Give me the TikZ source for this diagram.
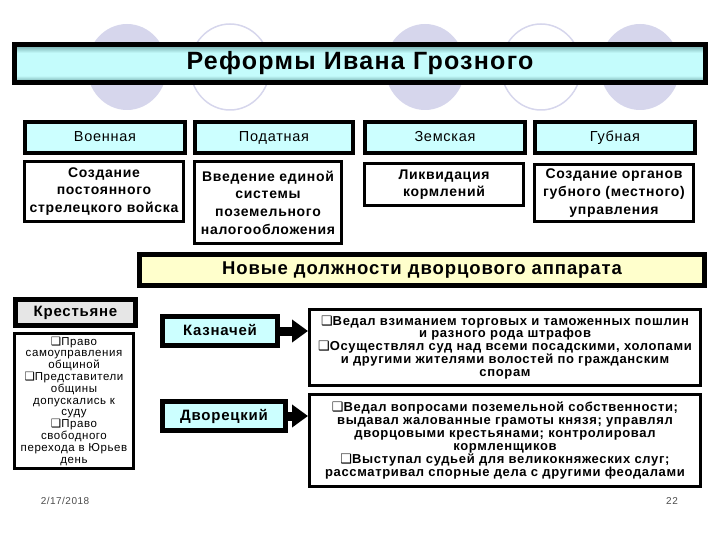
\documentclass[tikz,border=0pt]{standalone}
\usepackage{fontspec}
\setmainfont{Liberation Sans}[LetterSpace=5]
\newfontfamily\dejavu{DejaVu Sans}
\usetikzlibrary{arrows.meta}
\definecolor{RingClr}{RGB}{214,214,236}
\definecolor{TubeClr}{RGB}{196,252,252}
\definecolor{TubeEdgeClr}{RGB}{104,160,160}
\definecolor{HeadClr}{RGB}{204,255,255}
\definecolor{GoldClr}{RGB}{255,255,204}
\definecolor{GrayClr}{RGB}{230,230,230}
\pgfdeclareverticalshading{tubeshade}{100bp}{color(0bp)=(TubeEdgeClr); color(25bp)=(TubeEdgeClr);
  color(34bp)=(TubeClr); color(64bp)=(TubeClr); color(75bp)=(TubeEdgeClr); color(100bp)=(TubeEdgeClr)}
\newcommand{\qbox}{{\dejavu\char"2751}}

\tikzset{
  cell/.style={draw,rectangle,inner sep=0pt,align=center},
  tube/.style={cell,line width=5pt,shading=tubeshade,
    minimum width=691pt,minimum height=38pt,font=\bfseries\fontsize{25}{27}\selectfont},
  head/.style={cell,line width=4pt,fill=HeadClr,minimum height=31pt,text height=10.5pt,text depth=3pt,
    font=\fontsize{14.5}{16}\selectfont},
  desc/.style={cell,line width=3pt,fill=white,font=\bfseries\fontsize{14}{17.7}\selectfont},
  goldbar/.style={cell,line width=5pt,fill=GoldClr,minimum width=565pt,minimum height=31pt,
    font=\bfseries\fontsize{18.5}{20}\selectfont},
  post/.style={cell,line width=5pt,fill=HeadClr,minimum height=29pt,text height=11pt,text depth=3pt,
    font=\bfseries\fontsize{15}{17}\selectfont},
  duty/.style={cell,line width=3pt,fill=white,minimum width=391pt,font=\bfseries\fontsize{13}{12.9}\selectfont},
  fatarrow/.style={line width=9pt,-{Triangle[length=16pt,width=22pt]}},
  ring/.style={line width=1.5pt,draw=RingClr},
  foot/.style={inner sep=0pt,text=black!70,font=\fontsize{10}{12}\selectfont}
}

\begin{document}
\begin{tikzpicture}[x=1pt,y=-1pt]
\useasboundingbox (0,0) rectangle (720,540);

% rings behind the title
\fill[RingClr] (127,67) ellipse (40 and 43);
\draw[ring] (230,67) ellipse (40 and 43);
\fill[RingClr] (425,67) ellipse (40 and 43);
\draw[ring] (541,67) ellipse (40 and 43);
\fill[RingClr] (640,67) ellipse (40 and 43);

\node[tube] (title) at (360,63.5) {Реформы Ивана Грозного};

\node[head,minimum width=160pt] (mil) at (105,137.5) {Военная};
\node[head,minimum width=158pt] (tax) at (274,137.5) {Податная};
\node[head,minimum width=160pt] (zem) at (445,137.5) {Земская};
\node[head,minimum width=160pt] (gub) at (615,137.5) {Губная};

\node[desc,minimum width=159pt,minimum height=60pt] (mild) at (104,191.5) {Создание\\постоянного\\стрелецкого войска};
\node[desc,minimum width=147pt,minimum height=82pt] (taxd) at (268,202.5) {Введение единой\\системы\\поземельного\\налогообложения};
\node[desc,minimum width=159pt,minimum height=42pt] (zemd) at (444,184.5) {Ликвидация\\кормлений};
\node[desc,minimum width=159pt,minimum height=57pt] (gubd) at (614,193) {Создание органов\\губного (местного)\\управления};

\node[goldbar] (posts) at (422,270) {Новые должности дворцового аппарата};

\node[cell,line width=5pt,fill=GrayClr,minimum width=120pt,minimum height=26pt,
  font=\bfseries\fontsize{15}{16}\selectfont] (peas) at (75.5,312.5) {Крестьяне};
\node[cell,line width=3pt,fill=white,minimum width=119pt,minimum height=135pt,
  font=\fontsize{11.5}{11.8}\selectfont] (peasd) at (74,401)
  {\qbox Право\\самоуправления\\общиной\\\qbox Представители\\общины\\допускались к\\суду\\\qbox Право\\свободного\\перехода в Юрьев\\день};

\node[post,minimum width=115pt] (kazn) at (220,331) {Казначей};
\node[post,minimum width=123pt] (dvor) at (224,416) {Дворецкий};

\node[duty,minimum height=76pt] (kaznd) at (505,347.5)
  {\qbox Ведал взиманием торговых и таможенных пошлин\\и разного рода штрафов\\\qbox Осуществлял суд над всеми посадскими, холопами\\и другими жителями волостей по гражданским\\спорам};
\node[duty,minimum height=92pt] (dvord) at (505,440.5)
  {\qbox Ведал вопросами поземельной собственности;\\выдавал жалованные грамоты князя; управлял\\дворцовыми крестьянами; контролировал\\кормленщиков\\\qbox Выступал судьей для великокняжеских слуг;\\рассматривал спорные дела с другими феодалами};

\draw[fatarrow] (kazn.east) -- (kazn.east -| kaznd.west);
\draw[fatarrow] (dvor.east) -- (dvor.east -| dvord.west);

\node[foot] (date) at (65,501) {2/17/2018};
\node[foot] (page) at (672,501) {22};

\end{tikzpicture}
\end{document}
